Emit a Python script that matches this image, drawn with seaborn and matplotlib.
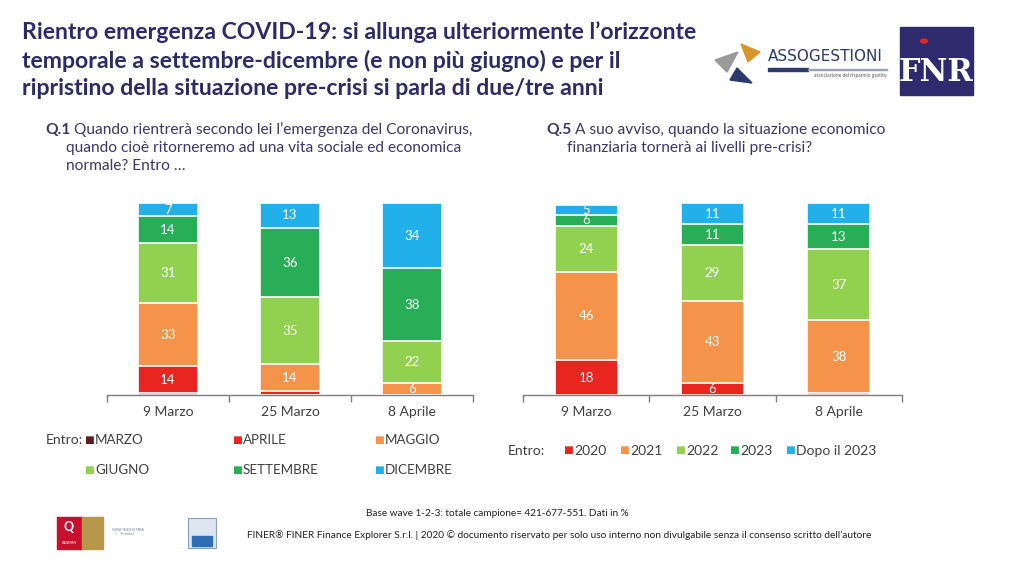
import matplotlib
matplotlib.use("Agg")
import matplotlib.pyplot as plt
from matplotlib.patches import Rectangle, Polygon, Circle
import seaborn as sns
import pandas as pd
import numpy as np

# ---- data ----
waves = ["9 Marzo", "25 Marzo", "8 Aprile"]

q1_cats = ["MARZO", "APRILE", "MAGGIO", "GIUGNO", "SETTEMBRE", "DICEMBRE"]
q1_marzo = [1, 0, 0]
q1_aprile = [14, 2, 0]
q1_maggio = [33, 14, 6]
q1_giugno = [31, 35, 22]
q1_settembre = [14, 36, 38]
q1_dicembre = [7, 13, 34]

q5_cats = ["2020", "2021", "2022", "2023", "Dopo il 2023"]
q5_2020 = [18, 6, 1]
q5_2021 = [46, 43, 38]
q5_2022 = [24, 29, 37]
q5_2023 = [6, 11, 13]
q5_dopo = [5, 11, 11]

q1_colors = ["#5C1E1E", "#E8251F", "#F5934A", "#92D050", "#27AE57", "#22B0EA"]
q5_colors = ["#E8251F", "#F5934A", "#92D050", "#27AE57", "#22B0EA"]

NAVY = "#2D2A64"
GREY = "#404040"

sns.set_theme(style="white")
plt.rcParams["font.family"] = ["Lato", "DejaVu Sans"]

W, H = 1024, 567
fx = lambda x: x / W
fy = lambda y: 1 - y / H


def stacked(ax, cats, series, colors, width):
    df = pd.DataFrame({c: s for c, s in zip(cats, series)}, index=waves)
    cum = df.cumsum(axis=1)
    # draw tallest cumulative first, then overlay smaller ones
    for c, col in zip(reversed(cats), reversed(colors)):
        sub = pd.DataFrame({"wave": waves, "val": cum[c].values})
        sns.barplot(data=sub, x="wave", y="val", order=waves, color=col,
                    saturation=1, width=width, errorbar=None,
                    edgecolor="white", linewidth=1.2, ax=ax)
    for i, w in enumerate(waves):
        for c in cats:
            v = df.loc[w, c]
            if v >= 5:
                ax.text(i, cum.loc[w, c] - v / 2, f"{v}", ha="center", va="center",
                        color="white", fontsize=9.5)
    ax.set_xlim(-0.5, 2.5)
    ax.set_ylim(0, 100)
    ax.set_xlabel("")
    ax.set_ylabel("")
    ax.set_yticks([])
    for s in ["top", "left", "right"]:
        ax.spines[s].set_visible(False)
    ax.spines["bottom"].set_color("#7F7F7F")
    ax.spines["bottom"].set_linewidth(1)
    ax.set_xticks(range(3))
    ax.set_xticklabels(waves, fontsize=10, color=GREY)
    ax.tick_params(axis="x", which="major", length=0, pad=8)
    ax.set_xticks([-0.5, 0.5, 1.5, 2.5], minor=True)
    ax.tick_params(axis="x", which="minor", length=5, color="#7F7F7F", width=1,
                   direction="out", bottom=True)


fig = plt.figure(figsize=(10.24, 5.67), dpi=100)

ax1 = fig.add_axes([fx(107), fy(395), (473 - 107) / W, 192 / H])
stacked(ax1, q1_cats, [q1_marzo, q1_aprile, q1_maggio, q1_giugno, q1_settembre, q1_dicembre],
        q1_colors, 0.49)

ax2 = fig.add_axes([fx(523), fy(395), (902 - 523) / W, 192 / H])
stacked(ax2, q5_cats, [q5_2020, q5_2021, q5_2022, q5_2023, q5_dopo], q5_colors, 0.5)

# ---- title ----
title_lines = ["Rientro emergenza COVID-19: si allunga ulteriormente l\u2019orizzonte",
               "temporale a settembre-dicembre (e non pi\u00f9 giugno) e per il",
               "ripristino della situazione pre-crisi si parla di due/tre anni"]
for y, line in zip([32, 61, 89], title_lines):
    fig.text(fx(22), fy(y), line, fontsize=16.6, fontweight="bold", color=NAVY,
             va="center", ha="left")

# ---- questions ----
QCOL = "#3B3868"
QFS = 11.2
fig.text(fx(45), fy(130), "Q.1", fontsize=QFS, fontweight="bold", color=QCOL, va="center")
fig.text(fx(74), fy(130), "Quando rientrer\u00e0 secondo lei l\u2019emergenza del Coronavirus,",
         fontsize=QFS, color=QCOL, va="center")
fig.text(fx(66), fy(148), "quando cio\u00e8 ritorneremo ad una vita sociale ed economica",
         fontsize=QFS, color=QCOL, va="center")
fig.text(fx(66), fy(166), "normale? Entro \u2026", fontsize=QFS, color=QCOL, va="center")

fig.text(fx(546), fy(130), "Q.5", fontsize=QFS, fontweight="bold", color=QCOL, va="center")
fig.text(fx(575), fy(130), "A suo avviso, quando la situazione economico",
         fontsize=QFS, color=QCOL, va="center")
fig.text(fx(567), fy(148), "finanziaria torner\u00e0 ai livelli pre-crisi?",
         fontsize=QFS, color=QCOL, va="center")

# ---- legends ----
fig.text(fx(46), fy(440), "Entro:", fontsize=10, color=GREY, va="center")
left_pos = [(84, 440), (232, 440), (374, 440), (84, 470), (232, 470), (374, 470)]
for (x, y), c, col in zip(left_pos, q1_cats, q1_colors):
    fig.text(fx(x), fy(y), "\u25a0", fontsize=7.5, color=col, va="center")
    fig.text(fx(x + 11), fy(y), c, fontsize=9.6, color=GREY, va="center")

fig.text(fx(508), fy(451), "Entro:", fontsize=10, color=GREY, va="center")
right_x = [563, 619, 675, 729, 785]
for x, c, col in zip(right_x, q5_cats, q5_colors):
    fig.text(fx(x), fy(451), "\u25a0", fontsize=7.5, color=col, va="center")
    fig.text(fx(x + 11), fy(451), c, fontsize=10, color=GREY, va="center")

# ---- footer ----
fig.text(fx(497), fy(514), "Base wave 1-2-3: totale campione= 421-677-551. Dati in %",
         fontsize=7.2, color="#222222", ha="center", va="center")
fig.text(fx(247), fy(535), "FINER\u00ae FINER Finance Explorer S.r.l. | 2020 \u00a9 documento riservato "
         "per solo uso interno non divulgabile senza il consenso scritto dell\u2019autore",
         fontsize=7.3, color="#222222", ha="left", va="center")

# ---- logos (approximate) ----
def rect(x0, y0, x1, y1, **kw):
    fig.patches.append(Rectangle((fx(x0), fy(y1)), (x1 - x0) / W, (y1 - y0) / H,
                                 transform=fig.transFigure, **kw))

def poly(pts, **kw):
    fig.patches.append(Polygon([(fx(x), fy(y)) for x, y in pts],
                               transform=fig.transFigure, **kw))

# Assogestioni
poly([(715, 60), (738, 52), (727, 72)], color="#9A9A9A")
poly([(741, 44), (760, 52), (748, 62)], color="#D9962E")
poly([(737, 68), (752, 83), (730, 80)], color="#2B3A6B")
fig.text(fx(768), fy(57), "ASSOGESTIONI", fontsize=11, color="#2B3A6B", va="center",
         family=["DejaVu Sans"])
rect(768, 68, 808, 71, color="#2B3A6B")
rect(808, 69, 887, 70, color="#9AA0B5")
fig.text(fx(887), fy(76), "associazione del risparmio gestito", fontsize=3.5,
         color="#555555", ha="right", va="center")

# FNR
rect(900, 27, 973, 95, color="#2E2A6E")
fig.patches.append(Circle((fx(924), fy(41)), 3.5 / W, transform=fig.transFigure,
                          color="#E8251F"))
fig.text(fx(936), fy(73), "FNR", fontsize=22, color="white", ha="center", va="center",
         family=["DejaVu Serif"], fontweight="bold")

# bottom-left badges
rect(57, 517, 82, 549, color="#C8102E")
fig.text(fx(69), fy(527), "Q", fontsize=9, color="white", fontweight="bold",
         ha="center", va="center")
fig.text(fx(69), fy(543), "ASSIRM", fontsize=3, color="white", ha="center", va="center")
rect(82, 517, 103, 549, color="#B8964A")
fig.text(fx(128), fy(532), "CONFINDUSTRIA\nIntellect", fontsize=3, color="#7A8AA0",
         ha="center", va="center")
rect(188, 518, 216, 548, facecolor="#DDE6F0", edgecolor="#8AA0B8", linewidth=0.8)
rect(192, 536, 212, 546, color="#2F6DB5")

fig.savefig("out.png", dpi=100)
